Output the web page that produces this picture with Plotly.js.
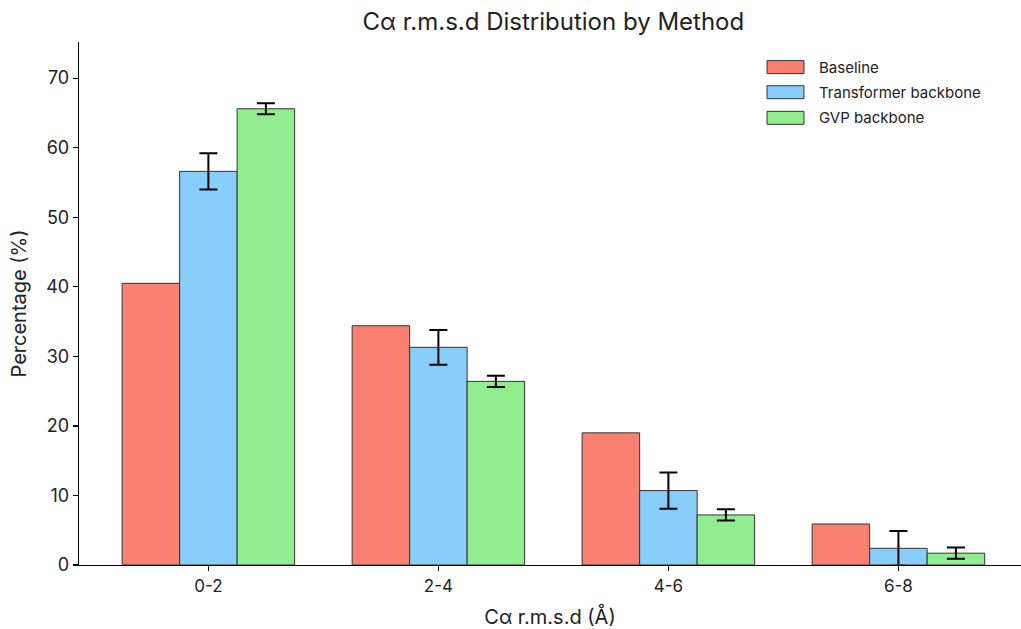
<!DOCTYPE html>
<html>
<head>
<meta charset="utf-8">
<script src="https://cdn.plot.ly/plotly-3.0.1.min.js"></script>
<style>html,body{margin:0;padding:0;background:#fff;}#chart{width:1021px;height:629px;}</style>
</head>
<body>
<div id="chart"></div>
<script>
const categories = ["0-2", "2-4", "4-6", "6-8"];
const seriesNames = ["Baseline", "Transformer backbone", "GVP backbone"];
const baseline = [40.5, 34.4, 19.0, 5.9];
const transformer = [56.6, 31.3, 10.7, 2.4];
const transformerErr = [2.6, 2.5, 2.6, 2.5];
const gvp = [65.6, 26.4, 7.2, 1.7];
const gvpErr = [0.8, 0.8, 0.8, 0.8];
const colors = ["#FA8072", "#87CEFA", "#90EE90"];

const font = "Inter, Roboto, sans-serif";
const textColor = "#222";
function bar(name, y, err, color) {
  const t = {
    type: "bar", name: name, x: categories, y: y, showlegend: false,
    marker: {color: color, line: {color: "#333333", width: 1}}
  };
  if (err) t.error_y = {type: "data", array: err, visible: true, color: "#000", thickness: 2, width: 9};
  return t;
}
const data = [
  bar(seriesNames[0], baseline, null, colors[0]),
  bar(seriesNames[1], transformer, transformerErr, colors[1]),
  bar(seriesNames[2], gvp, gvpErr, colors[2])
];

// custom legend (wide swatches like the reference)
const legendX0 = 0.7304, legendX1 = 0.7696, legendTextX = 0.7835;
const legendY = [0.952, 0.904, 0.855], swH = 0.0124;
const shapes = [], annotations = [];
seriesNames.forEach((n, i) => {
  shapes.push({type: "rect", xref: "paper", yref: "paper", x0: legendX0, x1: legendX1,
    y0: legendY[i] - swH, y1: legendY[i] + swH, fillcolor: colors[i], line: {color: "#333", width: 1}});
  annotations.push({xref: "paper", yref: "paper", x: legendTextX, y: legendY[i], xanchor: "left", yanchor: "middle",
    text: n, showarrow: false, font: {size: 15, color: textColor, family: font}});
});

const layout = {
  width: 1021, height: 629,
  margin: {l: 79, r: 0, t: 42, b: 64},
  paper_bgcolor: "#fff", plot_bgcolor: "#fff",
  font: {family: font, color: textColor},
  barmode: "group", bargap: 0.25, bargroupgap: 0,
  showlegend: false,
  shapes: shapes, annotations: annotations,
  title: {text: "C\u03b1 r.m.s.d Distribution by Method", x: 0.542, xanchor: "center", y: 0.965, yanchor: "middle", font: {size: 24, color: textColor, family: font}},
  xaxis: {
    type: "category", range: [-0.5625, 3.533],
    showline: true, linecolor: "#000", linewidth: 1.2,
    ticks: "outside", ticklen: 5, tickcolor: "#000", tickwidth: 1.2,
    tickfont: {size: 17, color: textColor}, showgrid: false, zeroline: false,
    title: {text: "C\u03b1 r.m.s.d (\u00c5)", font: {size: 20, color: textColor}, standoff: 18}
  },
  yaxis: {
    range: [0, 75.2], tickvals: [0,10,20,30,40,50,60,70],
    showline: true, linecolor: "#000", linewidth: 1.2,
    ticks: "outside", ticklen: 5, tickcolor: "#000", tickwidth: 1.2,
    tickfont: {size: 18, color: textColor}, showgrid: false, zeroline: false,
    title: {text: "Percentage (%)", font: {size: 20, color: textColor}, standoff: 14}
  }
};
Plotly.newPlot("chart", data, layout, {displayModeBar: false, staticPlot: true});
</script>
</body>
</html>
